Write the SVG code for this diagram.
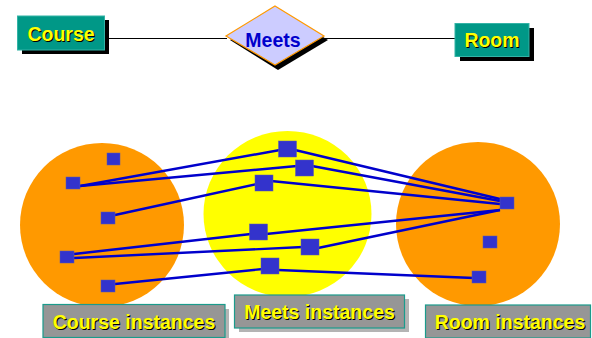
<svg xmlns="http://www.w3.org/2000/svg" width="592" height="338" viewBox="0 0 592 338">
<defs>
<style>
.ent{fill:#009887;stroke:#33b3a6;stroke-width:1}
.shd{fill:#000000}
.lbl{font-family:"Liberation Sans",Arial,sans-serif;font-weight:bold;font-size:19.5px;text-anchor:middle}
.ylw{fill:#ffff00}
.blk{fill:#000000}
.conn{stroke:#0000cc;stroke-width:2.4;fill:none}
.er{stroke:#000000;stroke-width:1.2}
.sq{fill:#3333cc;stroke:#5a5ab0;stroke-width:0.5}
.inst{fill:#969696;stroke:#1a9b8c;stroke-width:1.2}
.ishd{fill:#b4b4b4}
</style>
</defs>
<rect width="592" height="338" fill="#ffffff"/>

<!-- sets -->
<g id="course-set"><ellipse cx="102" cy="225" rx="82" ry="82" fill="#ff9900"/></g>
<g id="meets-set"><ellipse cx="287.5" cy="214" rx="84" ry="83" fill="#ffff00"/></g>
<g id="room-set"><ellipse cx="478" cy="224" rx="82" ry="82" fill="#ff9900"/></g>

<!-- connectors -->
<g id="connectors">
<line class="er" x1="104" y1="38.5" x2="227" y2="38.5"/>
<line class="er" x1="323" y1="38.5" x2="455" y2="38.5"/>
<line class="conn" x1="80" y1="186" x2="280" y2="150"/>
<line class="conn" x1="80" y1="186" x2="297" y2="166"/>
<line class="conn" x1="115" y1="215" x2="257" y2="184"/>
<line class="conn" x1="74" y1="254" x2="251" y2="234"/>
<line class="conn" x1="74" y1="258" x2="303" y2="247"/>
<line class="conn" x1="115" y1="284" x2="263" y2="269"/>
<line class="conn" x1="295" y1="150" x2="500" y2="199"/>
<line class="conn" x1="312" y1="166" x2="500" y2="201"/>
<line class="conn" x1="271" y1="181" x2="500" y2="204"/>
<line class="conn" x1="266" y1="234" x2="500" y2="210"/>
<line class="conn" x1="318" y1="248" x2="500" y2="210"/>
<line class="conn" x1="278" y1="270" x2="474" y2="278"/>
</g>

<!-- instances -->
<g id="course-instances">
<rect class="sq" x="107" y="153" width="13" height="12"/>
<rect class="sq" x="66" y="177" width="14" height="12"/>
<rect class="sq" x="101" y="212" width="14" height="12"/>
<rect class="sq" x="60" y="251" width="14" height="12"/>
<rect class="sq" x="101" y="280" width="14" height="12"/>
</g>
<g id="meets-instances">
<rect class="sq" x="278.5" y="141" width="18" height="16"/>
<rect class="sq" x="295.5" y="160" width="18" height="16"/>
<rect class="sq" x="255" y="175" width="18" height="16"/>
<rect class="sq" x="249.5" y="224" width="18" height="16"/>
<rect class="sq" x="301" y="239" width="18" height="16"/>
<rect class="sq" x="261" y="258" width="18" height="16"/>
</g>
<g id="room-instances">
<rect class="sq" x="500" y="197" width="14" height="12"/>
<rect class="sq" x="483" y="236" width="14" height="12"/>
<rect class="sq" x="472" y="271" width="14" height="12"/>
</g>

<!-- ER nodes -->
<g id="course">
<rect class="shd" x="22" y="20" width="87" height="34"/>
<rect class="ent" x="17.5" y="16" width="87" height="34"/>
<text class="lbl blk" x="62" y="42">Course</text>
<text class="lbl ylw" x="61" y="41">Course</text>
</g>
<g id="meets">
<polygon points="278,10 328,40 278,70 230,40" fill="#000000"/>
<polygon points="275,6 324,36 275,65 226,36" fill="#ccccff" stroke="#ff9900" stroke-width="1.2"/>
<text class="lbl" x="273" y="47" fill="#0000cc">Meets</text>
</g>
<g id="room">
<rect class="shd" x="460" y="28" width="74" height="33"/>
<rect class="ent" x="455" y="23.5" width="74" height="33"/>
<text class="lbl blk" x="493" y="48">Room</text>
<text class="lbl ylw" x="492" y="47">Room</text>
</g>

<!-- instance labels -->
<g id="course-instances-label">
<rect class="ishd" x="47" y="309" width="182" height="33"/>
<rect class="inst" x="43" y="304.5" width="182" height="33"/>
<text class="lbl blk" x="135" y="330">Course instances</text>
<text class="lbl ylw" x="134" y="329">Course instances</text>
</g>
<g id="meets-instances-label">
<rect class="ishd" x="239" y="299" width="170" height="33"/>
<rect class="inst" x="234.5" y="295" width="170" height="33"/>
<text class="lbl blk" x="320.5" y="320">Meets instances</text>
<text class="lbl ylw" x="319.5" y="319">Meets instances</text>
</g>
<g id="room-instances-label">
<rect class="inst" x="425.5" y="305" width="165" height="33"/>
<text class="lbl blk" x="511" y="330">Room instances</text>
<text class="lbl ylw" x="510" y="329">Room instances</text>
</g>
</svg>
